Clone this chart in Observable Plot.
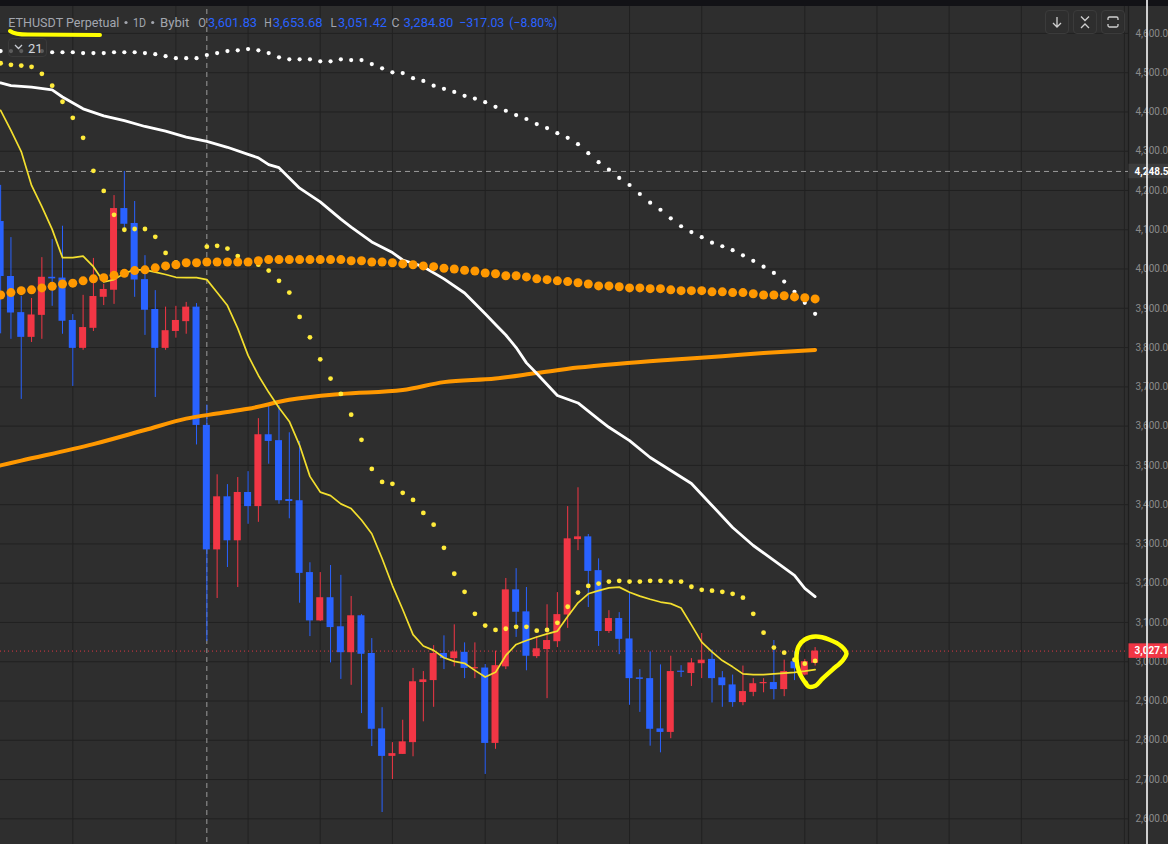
<!DOCTYPE html>
<html><head><meta charset="utf-8">
<script src="https://cdn.jsdelivr.net/npm/d3@7"></script>
<script src="https://cdn.jsdelivr.net/npm/@observablehq/plot@0.6"></script>
<style>
html,body{margin:0;padding:0;background:#2e2e2e;overflow:hidden;}
#wrap{position:relative;width:1168px;height:844px;overflow:hidden;background:#2e2e2e;font-family:Roboto,sans-serif;}
#chart{position:absolute;left:0;top:0;}
#topbar{position:absolute;left:0;top:0;width:1168px;height:6px;background:#121216;}
#hdr{position:absolute;left:0;top:0;}
.btn{position:absolute;top:10px;width:22px;height:22px;border:1px solid #3b3b3b;border-radius:4px;}
#leg{position:absolute;left:8px;top:38px;width:37px;height:17px;border:1px solid #3a3a3a;border-radius:4px;background:rgba(46,46,46,0.78);}
#vline{position:absolute;left:1146px;top:0;width:2px;height:844px;background:#e2e2e2;opacity:0.9;}
</style></head>
<body><div id="wrap">
<div id="chart"></div>
<div id="topbar"></div>
<svg id="hdr" width="600" height="40"></svg>
<div id="leg"><svg width="37" height="17" style="position:absolute;left:0;top:0"><path d="M6,6 L9.5,9.5 L13,6" fill="none" stroke="#c9ccd3" stroke-width="1.3"/><text x="19" y="13.5" font-size="13" fill="#d1d4dc" font-family="Roboto,sans-serif">21</text></svg></div>
<svg id="ul" width="120" height="45" style="position:absolute;left:0;top:0"><path d="M10,31 Q15,34.5 28,34.6 L100,35" fill="none" stroke="#ffff00" stroke-width="4" stroke-linecap="round"/></svg>
<div class="btn" style="left:1045px"><svg width="22" height="22"><path d="M11,6 V16 M7,12 L11,16 L15,12" fill="none" stroke="#d0d0d0" stroke-width="1.3"/></svg></div>
<div class="btn" style="left:1073px"><svg width="22" height="22"><path d="M7,5.5 L11,9.5 L15,5.5 M7,17 L11,13 L15,17" fill="none" stroke="#d0d0d0" stroke-width="1.3"/></svg></div>
<div class="btn" style="left:1101px"><svg width="22" height="22"><path d="M6,9 V7.5 Q6,6 7.5,6 H14.5 Q16,6 16,7.5 V9 M6,13 V14.5 Q6,16 7.5,16 H14.5 Q16,16 16,14.5 V13" fill="none" stroke="#d0d0d0" stroke-width="1.3"/></svg></div>
<div id="vline"></div>
</div>
<script>
// ---- data ----
const openV = [4121,3981,3889,3826,3882,3979,3977,3869,3798,3849,
3928,3946,4154,4116,3973,3897,3798,3841,3866,3903,
3601.83,3284.8,3420,3308,3431,3395,3578,3563,3413,3410,
3227,3104,3163,3089,3023,3117,3021,2829,2759,2764,
2794,2947,2952,3021,3008,3024,2982,2984,2792,2987,
3183,3127,3013,3031,3051,3119,3311,3318,3232,3077,
3110,3058,2959,2957,2829,2820,2976,2970,2995,3006,
2959,2941,2896,2922,2944,2947,2929,3000,2966,2996];
const highV = [4213,4080,3930,3925,4029,4075,4109,3884,3933,4027,
3961,4187,4248.5,4172,4034,3945,3903,3905,3915,3912,
3653.68,3476,3451,3469,3484,3619,3650,3652,3583,3561,
3252,3227,3245,3220,3166,3120,3059,2883,2794,2851,
2983,2975,3041,3066,3094,3048,3048,2993,3027,3212,
3237,3189,3064,3145,3176,3395,3443,3324,3262,3130,
3125,3174,2980,3025,2992,3014,2990,3008,3072,3030,
2975,2966,2989,2957,2957,3054,3004,3025,3006,3036];
const lowV = [3835,3821,3668,3813,3821,3905,3834,3701,3793,3841,
3907,3910,4098,3928,3831,3673,3793,3824,3834,3552,
3051.42,3161,3240,3189,3350,3355,3503,3401,3364,3149,
3064,3102,2997,2955,2940,2868,2784,2616,2700,2764,
2758,2847,2884,2980,2987,2957,2957,2713,2777,2980,
3062,2977,3008,2906,3036,3085,3283,3138,3039,3072,
3018,2889,2871,2785,2768,2804,2960,2937,2957,2895,
2884,2884,2888,2911,2921,2903,2911,2952,2964,2989];
const closeV = [3981,3888,3826,3883,3979,3975,3867,3798,3851,3930,
3948,4154,4114,3972,3895,3798,3843,3869,3903,3601.83,
3284.8,3420,3308,3431,3395,3578,3561,3410,3408,3225,
3104,3163,3087,3023,3117,3019,2828,2759,2766,2796,
2949,2954,3021,3008,3025,2983,2985,2792,2990,3183,
3126,3014,3033,3054,3120,3313,3318,3230,3077,3110,
3057,2957,2955,2828,2820,2975,2973,2997,3004,2957,
2939,2896,2924,2944,2947,2929,2975,2982,3000,3027.1];

// white dotted series (one per candle)
const whiteDots = [4555,4555,4555,4555,4555,4552,4552,4552,4550,4550,
4550,4552,4552,4552,4550,4547,4542,4537,4537,4537,
4545,4550,4555,4557,4560,4557,4550,4539,4534,4534,
4534,4529,4529,4534,4532,4532,4522,4511,4501,4499,
4486,4479,4467,4459,4451,4441,4434,4425,4413,4403,
4392,4382,4369,4359,4346,4334,4318,4295,4272,4253,
4232,4214,4191,4169,4151,4129,4109,4094,4081,4067,
4058,4048,4035,4021,4006,3990,3968,3942,3914,3886];
// orange dotted series
const orangeDots = [3934,3940,3945,3947,3952,3956,3962,3964,3970,3975,
3978,3984,3989,3996,3998,4003,4008,4011,4016,4016,
4018,4018,4018,4018,4018,4021,4024,4024,4024,4024,
4024,4024,4024,4024,4021,4021,4018,4018,4016,4013,
4011,4008,4006,4002,4000,3997,3995,3990,3988,3983,
3983,3980,3975,3973,3970,3968,3965,3962,3957,3957,
3955,3952,3952,3950,3950,3947,3945,3945,3945,3942,
3942,3940,3940,3937,3934,3934,3932,3929,3927,3924];
// yellow dotted series
const yellowDots = [4524,4520,4518,4515,4497,4467,4426,4385,4334,4250,
4199,4138,4100,4102,4102,4082,4041,4017,4014,4017,
4057,4059,4052,4033,4019,4011,3996,3970,3940,3878,
3826,3770,3721,3682,3629,3565,3491,3458,3453,3430,
3412,3379,3349,3290,3224,3178,3122,3092,3081,3084,
3089,3089,3079,3081,3099,3140,3176,3193,3199,3204,
3206,3204,3204,3206,3206,3204,3204,3191,3183,3181,
3178,3173,3163,3122,3074,3036,3023,3005,2995,3002];
// yellow thin line (21)
const yellowLine = [4404,4353,4299,4213,4159,4101,4029,4029,4033,4006,
3967,3973,3989,3998,3998,3992,3986,3979,3978,3978,
3973,3940,3907,3849,3780,3729,3686,3647,3612,3551,
3472,3432,3423,3402,3390,3361,3326,3263,3194,3133,
3069,3040,3029,3010,3001,2996,2978,2961,2973,3016,
3044,3054,3063,3071,3078,3115,3150,3173,3181,3188,
3190,3177,3167,3159,3152,3148,3137,3094,3050,3025,
3003,2987,2969,2967,2967,2969,2971,2973,2976,2980];
// white solid line (read at these candles)
const whiteIdx = [0,1,3,5,6,8,10,12,14,16,18,20,22,24,25,26,27,29,31,33,34,36,38,39,41,43,45,47,48,49,50,51,52,54,56,58,59,61,63,65,67,69,71,73,75,77,78,79];
const whiteVal = [4474,4467,4463,4456,4438,4408,4390,4378,4363,4351,4336,4325,4310,4292,4283,4266,4258,4206,4171,4127,4107,4069,4042,4023,4006,3975,3939,3886,3859,3832,3800,3761,3734,3678,3659,3617,3597,3563,3520,3487,3454,3398,3342,3296,3258,3220,3187,3166];
// orange thick line
const orangeIdx = [0,2,9,14,18,21,24,28,33,39,43,48,52,56,60,65,70,74,79];
const orangeVal = [3500,3512,3554,3590,3619,3632,3644,3667,3682,3692,3712,3721,3735,3749,3759,3769,3778,3786,3794];
// axis ticks, grid, price marks
const yTicks = [2600,2700,2800,2900,3000,3100,3200,3300,3400,3500,3600,3700,3800,3900,4000,4100,4200,4300,4400,4500,4600];
const gridIdx = [7,17,24,31,38,47,54,61,68,78,85,92,99,109];
const crossIdx = 20;
const hiLine = 4248.5;
const lastPrice = 3027.1;
// hand-drawn circle note around last candle
const noteIdx = [78.16,77.48,77.19,77.39,77.97,79.04,80.40,81.56,82.04,81.66,80.69,79.72,79.04,78.36,78.07];
const notePrice = [2942,2972,3008,3039,3056,3064,3056,3039,3021,3003,2980,2957,2939,2937,2947];
// header texts: [text, left, width, colour class]
const headerParts = [
 ["ETHUSDT Perpetual",8.3,111,"g"],["1D",133,13,"g"],["Bybit",160,29.3,"g"],
 ["O",198.3,7.7,"g"],["3,601.83",208,49,"b"],["H",264.3,7.4,"g"],["3,653.68",272.7,50,"b"],
 ["L",330.5,6.2,"g"],["3,051.42",338,49,"b"],["C",391.5,8,"g"],["3,284.80",403.5,49.8,"b"],
 ["−317.03",459.3,45,"b"],["(−8.80%)",509.3,48,"b"]
];
const headerDots = [126, 152.7];

// ---- build ----
const RED = "#f23645", BLUE = "#2962ff", GRID = "#212121";
const xMin = -0.0126, xMax = 109.396;
const candles = openV.map((o,i)=>({i, o, h: highV[i], l: lowV[i], c: closeV[i]}));
const up = d => d.c >= d.o;
const bodyEnd = d => Math.abs(d.c - d.o) < 2.6 ? d.o + (up(d) ? 2.6 : -2.6) : d.c;
const idx = d3.range(openV.length);
const whiteLine = whiteIdx.map((i,k)=>({i, v: whiteVal[k]}));
const orangeLine = orangeIdx.map((i,k)=>({i, v: orangeVal[k]}));
const note = noteIdx.map((i,k)=>({i, v: notePrice[k]}));
const fmt1 = d3.format(",.1f");
const priceBoxes = [{v: hiLine, fill: "#3d3d3d", label: fmt1(hiLine)},
                    {v: lastPrice, fill: RED, label: fmt1(lastPrice)}];

const chart = Plot.plot({
  width: 1168, height: 844,
  marginLeft: 0, marginRight: 40, marginTop: 0, marginBottom: 0,
  x: {type: "linear", domain: [xMin, xMax], axis: null},
  y: {type: "linear", domain: [2534.6, 4683.8], axis: null},
  style: {background: "#2e2e2e", fontFamily: "Roboto, sans-serif", color: "#8a8a8a", overflow: "hidden"},
  marks: [
    Plot.ruleY(yTicks, {stroke: GRID, strokeWidth: 1}),
    Plot.ruleX(gridIdx, {stroke: GRID, strokeWidth: 1}),
    Plot.ruleX([xMax], {stroke: "#1e1e1e", strokeWidth: 1.2}),
    Plot.ruleY([hiLine], {stroke: "#9c9c9c", strokeDasharray: "5,4", strokeWidth: 1}),
    Plot.ruleX([crossIdx], {stroke: "#9c9c9c", strokeDasharray: "5,4", strokeWidth: 1}),
    Plot.ruleY([lastPrice], {stroke: RED, strokeDasharray: "1,3", strokeWidth: 1, strokeOpacity: 0.9}),
    Plot.ruleX(candles, {filter: up, x: "i", y1: "l", y2: "h", stroke: RED, strokeWidth: 1}),
    Plot.ruleX(candles, {filter: d => !up(d), x: "i", y1: "l", y2: "h", stroke: BLUE, strokeWidth: 1}),
    Plot.rect(candles, {filter: up, x1: d => d.i - 0.34, x2: d => d.i + 0.34, y1: "o", y2: bodyEnd, fill: RED}),
    Plot.rect(candles, {filter: d => !up(d), x1: d => d.i - 0.34, x2: d => d.i + 0.34, y1: "o", y2: bodyEnd, fill: BLUE}),
    Plot.line(orangeLine, {x: "i", y: "v", stroke: "#ff9800", strokeWidth: 4, curve: "monotone-x"}),
    Plot.line(whiteLine, {x: "i", y: "v", stroke: "#ffffff", strokeWidth: 2.8, curve: "linear"}),
    Plot.line(idx, {x: d => d, y: d => yellowLine[d], stroke: "#f3df2e", strokeWidth: 1.7}),
    Plot.dot(idx, {x: d => d, y: d => yellowDots[d], r: 2.4, fill: "#ffeb3b", stroke: null}),
    Plot.dot(idx, {x: d => d, y: d => whiteDots[d], r: 2.1, fill: "#ffffff", stroke: null}),
    Plot.dot(idx, {x: d => d, y: d => orangeDots[d], r: 4.5, fill: "#ff9800", stroke: null}),
    Plot.line(note, {x: "i", y: "v", stroke: "#ffff00", strokeWidth: 4.5, curve: "catmull-rom", strokeLinecap: "round"}),
    Plot.axisY(yTicks, {anchor: "right", tickSize: 0, tickPadding: 7, tickFormat: fmt1, fontSize: 10, fill: "#8a8a8a", label: null}),
    Plot.rect(priceBoxes, {x1: () => xMax + 0.05, x2: () => xMax + 4.2, y1: d => d.v - 18.5, y2: d => d.v + 18.5, fill: "fill"}),
    Plot.text(priceBoxes, {x: () => xMax, y: "v", text: "label", dx: 6, textAnchor: "start", fill: "#ffffff", fontWeight: "bold", fontSize: 10})
  ]
});
document.getElementById("chart").appendChild(chart);

// header line
const hdr = d3.select("#hdr");
headerParts.forEach(([t, x, w, c]) => {
  hdr.append("text").attr("x", x).attr("y", 27.3)
    .attr("textLength", w).attr("lengthAdjust", "spacingAndGlyphs")
    .attr("font-family", "Roboto, sans-serif").attr("font-size", 13)
    .attr("fill", c === "g" ? "#a3a6ae" : "#2962ff").text(t);
});
headerDots.forEach(x => hdr.append("circle").attr("cx", x).attr("cy", 22.5).attr("r", 1.6).attr("fill", "#a3a6ae"));
</script>
</body></html>
